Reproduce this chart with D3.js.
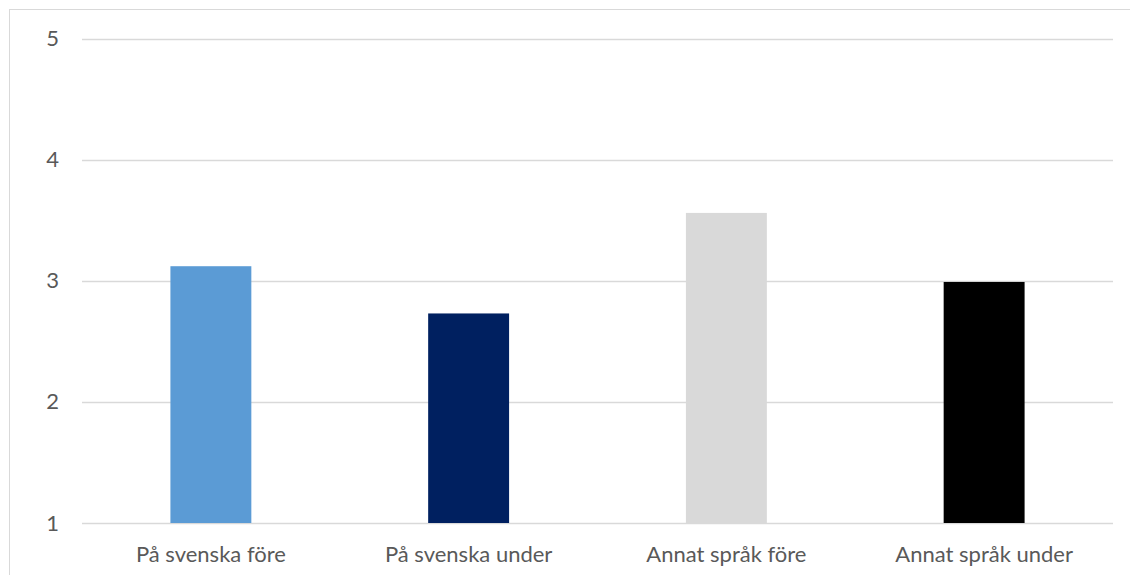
<!DOCTYPE html>
<html>
<head>
<meta charset="utf-8">
<script src="https://cdn.jsdelivr.net/npm/d3@7"></script>
<style>
  html, body { margin: 0; padding: 0; background: #fff; }
  svg { display: block; }
  text { font-family: Lato, "Open Sans", sans-serif; fill: #595959; }
</style>
</head>
<body>
<svg id="chart" width="1130" height="575"></svg>
<script>
// Average rating per language and period
const categories = ["På svenska före", "På svenska under", "Annat språk före", "Annat språk under"];
const values = [3.12, 2.73, 3.56, 2.99];
const colors = ["#5B9BD5", "#002060", "#D9D9D9", "#000000"];
const yTicks = [1, 2, 3, 4, 5];

const svg = d3.select("#chart");
const fontSize = "22px";

// Outer chart frame (runs past the right and bottom edges)
svg.append("rect")
  .attr("x", 9.5).attr("y", 9.5)
  .attr("width", 1200).attr("height", 700)
  .attr("fill", "none").attr("stroke", "#D9D9D9").attr("stroke-width", 1);

const plot = { left: 82, right: 1113, top: 38.5, bottom: 523 };

const x = d3.scaleBand()
  .domain(categories)
  .range([plot.left, plot.right])
  .paddingInner(0.686)
  .paddingOuter(0.343);

const y = d3.scaleLinear()
  .domain([1, 5])
  .range([plot.bottom, plot.top]);

// Horizontal gridlines
svg.append("g")
  .selectAll("line")
  .data(yTicks)
  .join("line")
  .attr("x1", plot.left).attr("x2", plot.right)
  .attr("y1", d => Math.round(y(d)) + 0.5)
  .attr("y2", d => Math.round(y(d)) + 0.5)
  .attr("stroke", "#D9D9D9").attr("stroke-width", 1.3);

// Y axis labels
const yAxis = d3.axisLeft(y).tickValues(yTicks).tickSize(0).tickPadding(0).tickFormat(d3.format("d"));
const gy = svg.append("g")
  .attr("transform", `translate(59,0)`)
  .call(yAxis);
gy.select(".domain").remove();
gy.selectAll("text")
  .style("font-size", fontSize)
  .style("font-family", "Lato, 'Open Sans', sans-serif")
  .attr("fill", "#595959");

// Bars
svg.append("g")
  .selectAll("rect")
  .data(categories)
  .join("rect")
  .attr("x", d => x(d))
  .attr("width", x.bandwidth())
  .attr("y", (d, i) => y(values[i]))
  .attr("height", (d, i) => y(1) - y(values[i]))
  .attr("fill", (d, i) => colors[i]);

// Category labels
const xAxis = d3.axisBottom(x).tickSize(0).tickPadding(0);
const gx = svg.append("g")
  .attr("transform", `translate(0,562)`)
  .call(xAxis);
gx.select(".domain").remove();
gx.selectAll("text")
  .attr("y", 0).attr("dy", 0)
  .style("font-size", fontSize)
  .style("font-family", "Lato, 'Open Sans', sans-serif")
  .attr("fill", "#595959");
</script>
</body>
</html>
